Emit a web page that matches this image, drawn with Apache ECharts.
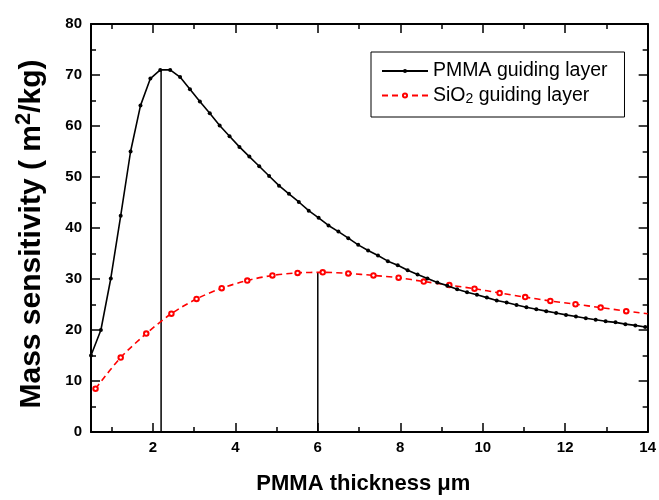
<!DOCTYPE html>
<html>
<head>
<meta charset="utf-8">
<script src="https://cdn.jsdelivr.net/npm/echarts@6/dist/echarts.min.js"></script>
<style>html,body{margin:0;padding:0;background:#fff;}#c{width:659px;height:500px;}</style>
</head>
<body>
<div id="c"></div>
<script>
// PMMA guiding layer
const pmmaX = [0.50, 0.74, 0.98, 1.22, 1.46, 1.70, 1.94, 2.18, 2.42, 2.66, 2.90, 3.14, 3.38, 3.62, 3.86, 4.10, 4.34, 4.58, 4.82, 5.06, 5.30, 5.54, 5.78, 6.02, 6.26, 6.50, 6.74, 6.98, 7.22, 7.46, 7.70, 7.94, 8.18, 8.42, 8.66, 8.90, 9.14, 9.38, 9.62, 9.86, 10.10, 10.34, 10.58, 10.82, 11.06, 11.30, 11.54, 11.78, 12.02, 12.26, 12.50, 12.74, 12.98, 13.22, 13.46, 13.70, 13.94];
const pmmaY = [15.0, 20.0, 30.1, 42.4, 55.0, 64.0, 69.3, 71.0, 71.0, 69.6, 67.2, 64.8, 62.5, 60.1, 58.0, 55.9, 54.0, 52.1, 50.2, 48.3, 46.7, 45.1, 43.4, 42.0, 40.5, 39.3, 38.0, 36.7, 35.6, 34.6, 33.5, 32.7, 31.7, 30.9, 30.1, 29.3, 28.7, 28.0, 27.4, 26.9, 26.35, 25.8, 25.4, 24.9, 24.46, 24.07, 23.7, 23.35, 22.96, 22.65, 22.3, 22.0, 21.7, 21.5, 21.15, 20.9, 20.6];
// SiO2 guiding layer (last point is the line end at the frame, without marker)
const sioX = [0.61, 1.22, 1.84, 2.45, 3.06, 3.67, 4.29, 4.90, 5.51, 6.12, 6.74, 7.35, 7.96, 8.57, 9.19, 9.80, 10.41, 11.03, 11.64, 12.25, 12.86, 13.48, 14.00];
const sioY = [8.5, 14.6, 19.3, 23.2, 26.1, 28.2, 29.7, 30.7, 31.2, 31.3, 31.1, 30.7, 30.25, 29.5, 28.8, 28.1, 27.25, 26.45, 25.7, 25.05, 24.4, 23.7, 23.2];
// maximum drop lines
const peakX = [2.2, 6.0];
const peakY = [71.0, 31.3];
// ticks
const xMajor = [2, 4, 6, 8, 10, 12, 14];
const xMinor = [1, 3, 5, 7, 9, 11, 13];
const seriesNames = ['PMMA guiding layer', 'SiO2 guiding layer'];

const FONT = '"Liberation Sans", Arial, sans-serif';
const chart = echarts.init(document.getElementById('c'), null, {renderer: 'canvas'});

const xBase = {type: 'value', min: 0.5, max: 14, splitLine: {show: false}};
function xAx(pos, ticks, len, labels, line) {
  return Object.assign({}, xBase, {
    position: pos,
    axisLine: {show: line, onZero: false, lineStyle: {color: '#000', width: 2}},
    axisTick: {show: true, inside: true, length: len, customValues: ticks, lineStyle: {color: '#000', width: 1.5}},
    axisLabel: labels ? {show: true, customValues: xMajor, color: '#000', fontFamily: FONT, fontWeight: 'bold', fontSize: 15, margin: 8} : {show: false}
  });
}
function yAx(pos, labels) {
  return {
    type: 'value', min: 0, max: 80, interval: 10, position: pos,
    splitLine: {show: false},
    axisLine: {show: true, onZero: false, lineStyle: {color: '#000', width: 2}},
    axisTick: {show: true, inside: true, length: 9, lineStyle: {color: '#000', width: 1.5}},
    minorTick: {show: true, splitNumber: 2, length: 5, lineStyle: {color: '#000', width: 1.5}},
    axisLabel: labels ? {show: true, color: '#000', fontFamily: FONT, fontWeight: 'bold', fontSize: 15, margin: 9} : {show: false}
  };
}

const xAxes = [
  xAx('bottom', xMajor, 9, true, true),
  xAx('bottom', xMinor, 5, false, false),
  xAx('top', xMajor, 9, false, true),
  xAx('top', xMinor, 5, false, false)
];
xAxes[0].name = 'PMMA thickness \u03bcm';
xAxes[0].nameLocation = 'middle';
xAxes[0].nameGap = 41;
xAxes[0].nameTextStyle = {color: '#000', fontFamily: FONT, fontWeight: 'bold', fontSize: 22, padding: [0, 12, 0, 0]};

const yAxes = [yAx('left', true), yAx('right', false)];
yAxes[0].name = '{a|Mass sensitivity ( m}{s|2}{a|/kg)}';
yAxes[0].nameLocation = 'middle';
yAxes[0].nameGap = 44;
yAxes[0].nameTextStyle = {
  color: '#000', fontFamily: FONT, fontWeight: 'bold', fontSize: 30,
  padding: [0, 12, 0, 0],
  rich: {
    a: {color: '#000', fontFamily: FONT, fontWeight: 'bold', fontSize: 30, lineHeight: 34, verticalAlign: 'bottom'},
    s: {color: '#000', fontFamily: FONT, fontWeight: 'bold', fontSize: 22, lineHeight: 34, verticalAlign: 'top'}
  }
};

const series = [
  {
    name: seriesNames[0], type: 'line', xAxisIndex: 0, yAxisIndex: 0,
    data: pmmaX.map((x, i) => [x, pmmaY[i]]),
    symbol: 'circle', symbolSize: 4, showAllSymbol: true,
    itemStyle: {color: '#000'},
    lineStyle: {color: '#000', width: 1.6},
    z: 5
  },
  {
    name: seriesNames[1], type: 'line', xAxisIndex: 0, yAxisIndex: 0,
    data: sioX.map((x, i) => i === sioX.length - 1 ? {value: [x, sioY[i]], symbol: 'none'} : [x, sioY[i]]),
    symbol: 'emptyCircle', symbolSize: 4.5, showAllSymbol: true, smooth: 0.3,
    itemStyle: {color: '#ff0000', borderWidth: 1},
    lineStyle: {color: '#ff0000', width: 1.6, type: [6, 4]},
    z: 4
  }
];
peakX.forEach((px, i) => {
  series.push({
    name: 'drop' + i, type: 'line', xAxisIndex: 0, yAxisIndex: 0,
    data: [[px, 0], [px, peakY[i]]],
    symbol: 'none', lineStyle: {color: '#000', width: 1.5}, z: 3, silent: true
  });
});

chart.setOption({
  animation: false,
  backgroundColor: '#fff',
  grid: {left: 91, right: 11, top: 24, bottom: 65.5, containLabel: false},
  xAxis: xAxes,
  yAxis: yAxes,
  legend: {
    data: seriesNames,
    orient: 'vertical',
    left: 371, top: 52,
    padding: [9, 17, 11, 10],
    itemGap: 2,
    itemWidth: 46, itemHeight: 5,
    borderColor: '#000', borderWidth: 1,
    backgroundColor: '#fff',
    formatter: function (n) {
      if (n === seriesNames[1]) return '{t|SiO}{b|2}{t| guiding layer}';
      return '{t|' + n + '}';
    },
    textStyle: {
      color: '#000', fontFamily: FONT, fontSize: 19.5,
      rich: {
        t: {color: '#000', fontFamily: FONT, fontSize: 19.5, lineHeight: 21},
        b: {color: '#000', fontFamily: FONT, fontSize: 14, lineHeight: 21, verticalAlign: 'bottom', padding: [9, 0, 0, 0]}
      }
    }
  },
  series: series
});
</script>
</body>
</html>
